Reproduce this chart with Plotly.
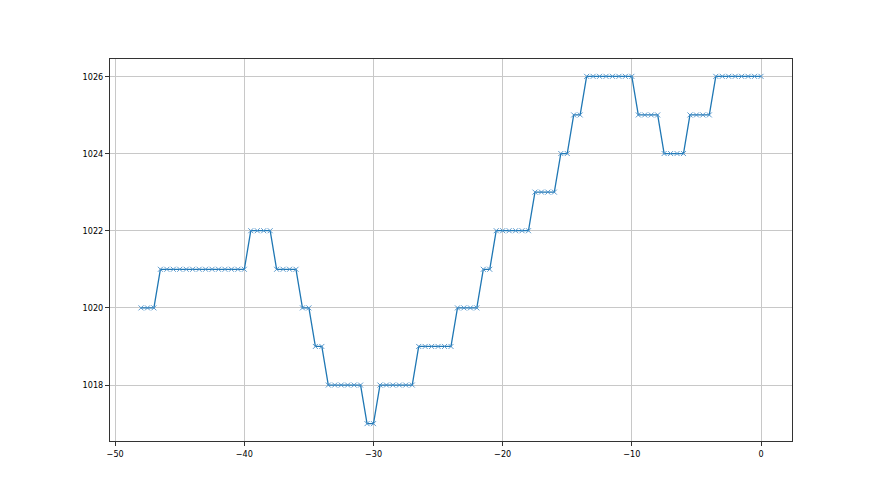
import plotly.graph_objects as go

x_values = [-48.0, -47.5, -47.0, -46.5, -46.0, -45.5, -45.0, -44.5, -44.0, -43.5, -43.0, -42.5,
            -42.0, -41.5, -41.0, -40.5, -40.0, -39.5, -39.0, -38.5, -38.0, -37.5, -37.0, -36.5,
            -36.0, -35.5, -35.0, -34.5, -34.0, -33.5, -33.0, -32.5, -32.0, -31.5, -31.0, -30.5,
            -30.0, -29.5, -29.0, -28.5, -28.0, -27.5, -27.0, -26.5, -26.0, -25.5, -25.0, -24.5,
            -24.0, -23.5, -23.0, -22.5, -22.0, -21.5, -21.0, -20.5, -20.0, -19.5, -19.0, -18.5,
            -18.0, -17.5, -17.0, -16.5, -16.0, -15.5, -15.0, -14.5, -14.0, -13.5, -13.0, -12.5,
            -12.0, -11.5, -11.0, -10.5, -10.0, -9.5, -9.0, -8.5, -8.0, -7.5, -7.0, -6.5,
            -6.0, -5.5, -5.0, -4.5, -4.0, -3.5, -3.0, -2.5, -2.0, -1.5, -1.0, -0.5, 0.0]

y_values = [1020, 1020, 1020,
            1021, 1021, 1021, 1021, 1021, 1021, 1021, 1021, 1021, 1021, 1021, 1021, 1021, 1021,
            1022, 1022, 1022, 1022,
            1021, 1021, 1021, 1021,
            1020, 1020,
            1019, 1019,
            1018, 1018, 1018, 1018, 1018, 1018,
            1017, 1017,
            1018, 1018, 1018, 1018, 1018, 1018,
            1019, 1019, 1019, 1019, 1019, 1019,
            1020, 1020, 1020, 1020,
            1021, 1021,
            1022, 1022, 1022, 1022, 1022, 1022,
            1023, 1023, 1023, 1023,
            1024, 1024,
            1025, 1025,
            1026, 1026, 1026, 1026, 1026, 1026, 1026, 1026,
            1025, 1025, 1025, 1025,
            1024, 1024, 1024, 1024,
            1025, 1025, 1025, 1025,
            1026, 1026, 1026, 1026, 1026, 1026, 1026, 1026]

x_ticks = [-50, -40, -30, -20, -10, 0]
x_tick_labels = ["\u221250", "\u221240", "\u221230", "\u221220", "\u221210", "0"]
y_ticks = [1018, 1020, 1022, 1024, 1026]
y_tick_labels = ["1018", "1020", "1022", "1024", "1026"]

fig = go.Figure()
fig.add_trace(go.Scatter(
    x=x_values, y=y_values, mode="lines+markers",
    line=dict(color="#1f77b4", width=1.3),
    marker=dict(symbol="x-thin", size=5, color="#4a90c8",
                line=dict(color="#4a90c8", width=0.9)),
    showlegend=False,
))

axis_common = dict(
    showgrid=True, gridcolor="#c8c8c8", gridwidth=0.8,
    showline=True, linecolor="#333333", linewidth=1, mirror=True,
    ticks="outside", ticklen=4, tickcolor="#333333", tickwidth=1,
    zeroline=False,
    tickfont=dict(family="DejaVu Sans Condensed, DejaVu Sans", size=9, color="#000000"),
)

fig.update_layout(
    width=880, height=495,
    margin=dict(l=102, r=96, t=51, b=62),
    paper_bgcolor="white", plot_bgcolor="white",
    xaxis=dict(range=[-50.4, 2.4], tickvals=x_ticks, ticktext=x_tick_labels, **axis_common),
    yaxis=dict(range=[1016.55, 1026.45], tickvals=y_ticks, ticktext=y_tick_labels, **axis_common),
)

fig.write_html("out.html")
